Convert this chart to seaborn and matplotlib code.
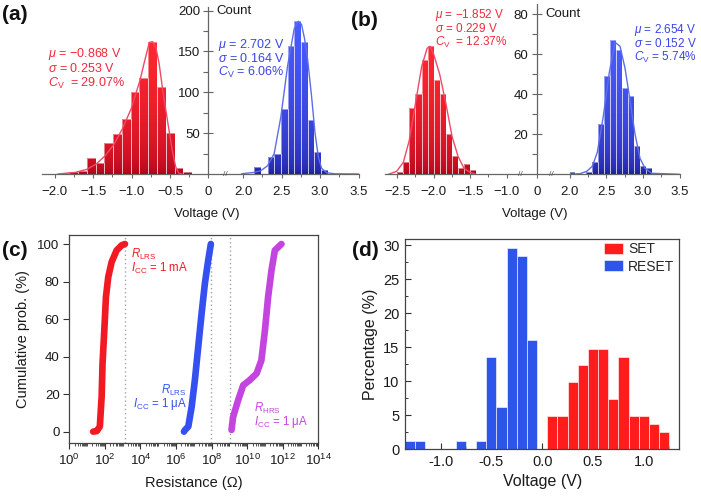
import numpy as np
import matplotlib
matplotlib.use("Agg")
import matplotlib.pyplot as plt
import seaborn as sns
from matplotlib.colors import LinearSegmentedColormap
from matplotlib.path import Path
from matplotlib.ticker import FixedLocator, FixedFormatter, LogLocator, NullFormatter

# ---------------- data ----------------
# (a) histograms (bin centres in V, counts)
a_red_v = [-1.866, -1.752, -1.638, -1.524, -1.410, -1.296, -1.182, -1.068,
           -0.954, -0.840, -0.726, -0.612, -0.498, -0.384, -0.270]
a_red_n = [1, 3, 4, 19, 14, 38, 49, 67, 100, 117, 162, 107, 50, 7, 3]
a_blue_v = [2.187, 2.274, 2.361, 2.448, 2.535, 2.622, 2.709, 2.796, 2.883, 2.970, 3.057]
a_blue_n = [8, 0, 21, 25, 80, 157, 187, 161, 66, 27, 5]
# (a) fit curves
a_red_curve_v = [-1.957, -1.731, -1.581, -1.462, -1.346, -1.231, -1.12, -1.004, -0.889,
                 -0.833, -0.769, -0.726, -0.684, -0.641, -0.598, -0.534, -0.47, -0.427,
                 -0.385, -0.342]
a_red_curve_n = [0, 2, 5.7, 12, 22, 36, 55, 80, 115, 137, 161, 162, 155, 135, 105, 66,
                 29, 9, 1, 0]
a_blue_curve_v = [1.9, 2.0, 2.143, 2.23, 2.317, 2.404, 2.491, 2.578, 2.665, 2.717, 2.76,
                  2.80, 2.839, 2.89, 2.935, 2.978, 3.02, 3.087, 3.2, 3.5]
a_blue_curve_n = [0, 0.5, 2, 4, 10, 25, 70, 132, 178, 187, 183, 165, 140, 95, 50, 21, 7,
                  1.5, 0.2, 0]
a_red_stats = [r"$\mu$ = −0.868 V", r"$\sigma$ = 0.253 V", r"$C_{\mathrm{V}}$  = 29.07%"]
a_blue_stats = [r"$\mu$ = 2.702 V", r"$\sigma$ = 0.164 V", r"$C_{\mathrm{V}}$ = 6.06%"]
a_xticks = [-2.0, -1.5, -1.0, -0.5, 0.0, 2.0, 2.5, 3.0, 3.5]
a_xtick_labels = ["−2.0", "−1.5", "−1.0", "−0.5", "0", "2.0", "2.5", "3.0", "3.5"]
a_yticks = [50, 100, 150, 200]
a_yminor = [25, 75, 125, 175]

# (b)
b_red_v = [-2.457, -2.374, -2.291, -2.208, -2.125, -2.042, -1.959, -1.877, -1.794,
           -1.711, -1.628, -1.545, -1.462]
b_red_n = [1, 6, 33, 40, 57, 64, 47, 40, 20, 9, 3, 5, 2]
b_blue_v = [2.022, 2.103, 2.184, 2.265, 2.347, 2.428, 2.509, 2.591, 2.672, 2.753, 2.835,
            2.916, 2.997, 3.078]
b_blue_n = [1, 0, 0, 1, 6, 25, 49, 67, 62, 43, 39, 14, 4, 3]
b_red_curve_v = [-2.62, -2.507, -2.416, -2.334, -2.247, -2.164, -2.09, -2.051, -2.0,
                 -1.918, -1.836, -1.749, -1.667, -1.585, -1.503, -1.42]
b_red_curve_n = [0, 1.5, 6, 17, 36, 54, 63, 64, 60, 50, 36, 19, 9, 3, 1, 0]
b_blue_curve_v = [2.0, 2.137, 2.229, 2.306, 2.374, 2.456, 2.539, 2.617, 2.685, 2.754,
                  2.822, 2.891, 2.959, 3.028, 3.119, 3.5]
b_blue_curve_n = [0, 0.3, 1.5, 4, 11, 29, 51, 66, 64, 53, 37, 20, 8, 3, 0.5, 0]
b_red_stats = [r"$\mu$ = −1.852 V", r"$\sigma$ = 0.229 V", r"$C_{\mathrm{V}}$  = 12.37%"]
b_blue_stats = [r"$\mu$ = 2.654 V", r"$\sigma$ = 0.152 V", r"$C_{\mathrm{V}}$ = 5.74%"]
b_xticks = [-2.5, -2.0, -1.5, -1.0, 0.0, 2.0, 2.5, 3.0, 3.5]
b_xtick_labels = ["−2.5", "−2.0", "−1.5", "−1.0", "0", "2.0", "2.5", "3.0", "3.5"]
b_yticks = [20, 40, 60, 80]
b_yminor = [10, 30, 50, 70]

# (c) cumulative probability curves (resistance in ohm, %)
c_red_r = [22, 35, 52, 66, 74, 93, 115, 155, 240, 457, 870, 1350]
c_red_p = [0, 0.3, 2.7, 18.7, 36.4, 54, 71.8, 82.4, 90.4, 96.6, 99.3, 100]
c_blue_r = [2.8e6, 3.2e6, 4.9e6, 7.6e6, 1.15e7, 1.78e7, 2.75e7, 4.2e7, 6.5e7, 9.1e7]
c_blue_p = [0, 0.9, 2.7, 13.3, 27.5, 45.3, 63, 79, 91.5, 100]
c_mag_r = [1.32e9, 1.62e9, 3.1e9, 6.0e9, 1.41e10, 3.4e10, 6.3e10, 1.0e11, 1.51e11,
           2.34e11, 3.6e11, 8.5e11]
c_mag_p = [0.9, 7.8, 16.7, 24.7, 27.5, 31, 38, 54, 71.8, 86, 96.6, 100]
c_vlines = [1.35e3, 9.0e7, 1.07e9]
c_xticks = [1e0, 1e2, 1e4, 1e6, 1e8, 1e10, 1e12, 1e14]
c_xtick_labels = ["$10^{0}$", "$10^{2}$", "$10^{4}$", "$10^{6}$", "$10^{8}$",
                  "$10^{10}$", "$10^{12}$", "$10^{14}$"]
c_yticks = [0, 20, 40, 60, 80, 100]

# (d) percentage histograms
d_set_v = [0.1, 0.2, 0.3, 0.4, 0.5, 0.6, 0.7, 0.8, 0.9, 1.0, 1.1, 1.2]
d_set_p = [4.94, 4.94, 9.88, 12.35, 14.8, 14.8, 7.4, 13.6, 4.94, 4.94, 3.7, 2.47]
d_reset_v = [-1.3, -1.2, -0.8, -0.6, -0.5, -0.4, -0.3, -0.2, -0.1]
d_reset_p = [1.23, 1.23, 1.23, 1.23, 13.6, 6.17, 29.6, 28.4, 16.05]
d_xticks = [-1.0, -0.5, 0.0, 0.5, 1.0]
d_xtick_labels = ["-1.0", "-0.5", "0.0", "0.5", "1.0"]
d_yticks = [0, 5, 10, 15, 20, 25, 30]

# ---------------- style ----------------
sns.set_theme(style="ticks")
plt.rcParams["font.family"] = ["Liberation Sans", "DejaVu Sans"]
plt.rcParams["mathtext.fontset"] = "custom"
plt.rcParams["mathtext.rm"] = "Liberation Sans"
plt.rcParams["mathtext.it"] = "Liberation Sans:italic"
plt.rcParams["mathtext.bf"] = "Liberation Sans:bold"
plt.rcParams["mathtext.sf"] = "Liberation Sans"
plt.rcParams["axes.unicode_minus"] = True

RED_TXT = "#F0283C"
RED_CURVE = "#F24868"
BLUE_TXT = "#3A44E4"
BLUE_CURVE = "#5C6EE8"
TICK_C = "#1a1a1a"
SPINE_C = "#666666"
EDGE_C = "#FFFFFFAA"

W, H = 701, 499
fig = plt.figure(figsize=(W / 100, H / 100), dpi=100)


def px_axes(x0, y0, x1, y1):
    return fig.add_axes([x0 / W, 1 - y1 / H, (x1 - x0) / W, (y1 - y0) / H])


def fig_text(x, y, s, **kw):
    fig.text(x / W, 1 - y / H, s, **kw)


def edges_from_centers(c):
    c = np.asarray(c, float)
    w = np.min(np.diff(c))
    n = int(round((c[-1] - c[0]) / w)) + 1
    return np.linspace(c[0] - w / 2, c[-1] + w / 2, n + 1).tolist()


def broken_scale(v_knots, u_knots):
    vk = np.asarray(v_knots, float)
    uk = np.asarray(u_knots, float)
    return (lambda x: np.interp(x, vk, uk)), (lambda u: np.interp(u, uk, vk))


def gradient_hist(ax, v, n, c_bottom, c_top, ytop):
    before = len(ax.patches)
    sns.histplot(x=v, weights=n, bins=edges_from_centers(v), ax=ax, color=c_top,
                 edgecolor=EDGE_C, linewidth=0.5, alpha=1)
    bars = list(ax.patches)[before:]
    cmap = LinearSegmentedColormap.from_list("g", [c_bottom, c_top])
    yy = np.linspace(0, 1, 256)
    grad = (np.clip(yy / (max(n) / ytop), 0, 1) ** 0.4).reshape(-1, 1)
    paths = [b.get_patch_transform().transform_path(b.get_path()) for b in bars]
    comp = Path.make_compound_path(*paths)
    im = ax.imshow(grad, extent=[0, 1, 0, 1], transform=ax.transAxes, origin="lower",
                   cmap=cmap, vmin=0, vmax=1, aspect="auto", interpolation="bilinear",
                   zorder=1.2)
    im.set_clip_path(comp, ax.transData)
    for b in bars:
        b.set_facecolor("none")
        b.set_zorder(1.4)


def hist_panel(ax, fwd, inv, hists, curves, xticks, xlabels, xminor, yticks, yminor,
               xlim, ytop, breaks):
    for v, n, cb, ct in hists:
        gradient_hist(ax, v, n, cb, ct, ytop)
    for cv, cn, col in curves:
        sns.lineplot(x=cv, y=cn, ax=ax, color=col, linewidth=1.0, zorder=2.5)
    ax.set_xscale("function", functions=(fwd, inv))
    ax.set_xlim(*xlim)
    ax.set_ylim(0, ytop)
    for s in ("top", "right"):
        ax.spines[s].set_visible(False)
    ax.spines["left"].set_position(("data", 0))
    for s in ("left", "bottom"):
        ax.spines[s].set_color(SPINE_C)
        ax.spines[s].set_linewidth(0.9)
    ax.xaxis.set_major_locator(FixedLocator(xticks))
    ax.xaxis.set_major_formatter(FixedFormatter(xlabels))
    ax.xaxis.set_minor_locator(FixedLocator(xminor))
    ax.xaxis.set_minor_formatter(NullFormatter())
    ax.yaxis.set_major_locator(FixedLocator(yticks))
    ax.yaxis.set_major_formatter(FixedFormatter([str(t) for t in yticks]))
    ax.yaxis.set_minor_locator(FixedLocator(yminor))
    ax.tick_params(axis="y", which="major", direction="inout", length=7, width=0.8,
                   color=SPINE_C, labelsize=9.5, labelcolor=TICK_C, pad=2.5)
    ax.tick_params(axis="y", which="minor", direction="out", length=3.5, width=0.8,
                   color=SPINE_C)
    ax.tick_params(axis="x", which="major", direction="out", length=3, width=0.8,
                   color=SPINE_C, labelsize=9.5, labelcolor=TICK_C, pad=5.5)
    ax.tick_params(axis="x", which="minor", direction="out", length=2, width=0.7,
                   color=SPINE_C)
    ax.set_ylabel("")
    ax.set_xlabel("Voltage (V)", fontsize=9.5, color=TICK_C)
    ax.annotate("Count", xy=(0, yticks[-1]), xycoords="data", xytext=(6, 0),
                textcoords="offset points", va="center", ha="left", fontsize=9.5,
                color=TICK_C)
    for bv in breaks:
        ax.text(bv, 0, "//", ha="center", va="center", fontsize=6, color="#555555",
                zorder=6)
    ax.set_facecolor("none")


# ---------------- (a) ----------------
axa = px_axes(41.5, 6.5, 358.5, 174)
fa, ia = broken_scale([-50, 0, 2, 50], [-50, 0, 0.45, 48.45])
hist_panel(axa, fa, ia,
           [(a_red_v, a_red_n, "#A8001A", "#FF2830"),
            (a_blue_v, a_blue_n, "#1A1A96", "#4A5CFF")],
           [(a_red_curve_v, a_red_curve_n, RED_CURVE),
            (a_blue_curve_v, a_blue_curve_n, BLUE_CURVE)],
           a_xticks, a_xtick_labels, [-1.75, -1.25, -0.75, -0.25, 2.25, 2.75, 3.25],
           a_yticks, a_yminor, (-2.17, 3.5), 205, [1.0])
axa.xaxis.set_label_coords(0.522, -0.2)

# ---------------- (b) ----------------
axb = px_axes(385, 4.3, 679.5, 174.3)
fb, ib = broken_scale([-50, -1, 0, 2, 50], [-49.411, -0.411, 0, 0.456, 48.456])
hist_panel(axb, fb, ib,
           [(b_red_v, b_red_n, "#A8001A", "#FF2830"),
            (b_blue_v, b_blue_n, "#1A1A96", "#4A5CFF")],
           [(b_red_curve_v, b_red_curve_n, RED_CURVE),
            (b_blue_curve_v, b_blue_curve_n, BLUE_CURVE)],
           b_xticks, b_xtick_labels, [-2.25, -1.75, -1.25, 2.25, 2.75, 3.25],
           b_yticks, b_yminor, (-2.667, 3.5), 85, [-0.55, 0.9])
axb.xaxis.set_label_coords(0.509, -0.2)

# stats annotations
for i, s in enumerate(a_red_stats):
    fig_text(48, 56.7 + 15 * i, s, color=RED_TXT, fontsize=9, va="baseline")
for i, s in enumerate(a_blue_stats):
    fig_text(218, 48.3 + 14 * i, s, color=BLUE_TXT, fontsize=9, va="baseline")
for i, s in enumerate(b_red_stats):
    fig_text(435, 18.3 + 14 * i, s, color=RED_TXT, fontsize=8.5, va="baseline")
for i, s in enumerate(b_blue_stats):
    fig_text(697, 33 + 13.8 * i, s, color=BLUE_TXT, fontsize=8.5, va="baseline",
             ha="right")

# ---------------- (c) ----------------
axc = px_axes(69.3, 235, 318.3, 442.7)
axc.set_xscale("log")
for r, p, col in [(c_red_r, c_red_p, "#F21A22"), (c_blue_r, c_blue_p, "#3550F0"),
                  (c_mag_r, c_mag_p, "#C444E0")]:
    sns.lineplot(x=r, y=p, ax=axc, color=col, linewidth=4.8, solid_capstyle="round",
                 solid_joinstyle="round", zorder=3)
for xv in c_vlines:
    axc.axvline(xv, color="#9aa3b8", linestyle=(0, (1, 2)), linewidth=1.0, zorder=1)
axc.set_xlim(1e0, 1e14)
axc.set_ylim(-5.9, 104.8)
axc.xaxis.set_major_locator(FixedLocator(c_xticks))
axc.xaxis.set_major_formatter(FixedFormatter(c_xtick_labels))
axc.xaxis.set_minor_locator(LogLocator(base=10, subs=np.arange(1, 10), numticks=100))
axc.xaxis.set_minor_formatter(NullFormatter())
axc.yaxis.set_major_locator(FixedLocator(c_yticks))
axc.yaxis.set_major_formatter(FixedFormatter([str(t) for t in c_yticks]))
axc.tick_params(axis="both", which="major", direction="out", length=4, width=0.8,
                color="#333333", labelsize=9.5, labelcolor=TICK_C, pad=3)
axc.tick_params(axis="x", which="minor", direction="out", length=2.5, width=0.6,
                color="#333333")
for s in axc.spines.values():
    s.set_color("#444444")
    s.set_linewidth(0.9)
axc.set_xlabel("Resistance (Ω)", fontsize=10.5, color=TICK_C, labelpad=6)
axc.set_ylabel("Cumulative prob. (%)", fontsize=10.5, color=TICK_C, labelpad=5)
TXT_C = 8.3
fig_text(131, 257.5, r"$R_{\mathrm{LRS}}$", color="#F21A22", fontsize=TXT_C, va="baseline")
fig_text(131, 271.5, r"$I_{\mathrm{CC}}$ = 1 mA", color="#F21A22", fontsize=TXT_C,
         va="baseline")
fig_text(187, 393.5, r"$R_{\mathrm{LRS}}$", color="#3550F0", fontsize=TXT_C,
         va="baseline", ha="right")
fig_text(187, 407.5, r"$I_{\mathrm{CC}}$ = 1 μA", color="#3550F0", fontsize=TXT_C,
         va="baseline", ha="right")
fig_text(254, 411.5, r"$R_{\mathrm{HRS}}$", color="#C444E0", fontsize=TXT_C,
         va="baseline")
fig_text(254, 425.5, r"$I_{\mathrm{CC}}$ = 1 μA", color="#C444E0", fontsize=TXT_C,
         va="baseline")

# ---------------- (d) ----------------
axd = px_axes(405, 239, 679.3, 449.3)
sns.histplot(x=d_set_v, weights=d_set_p, bins=edges_from_centers(d_set_v), ax=axd,
             color="#FF1C1C", edgecolor=EDGE_C, linewidth=0.6, alpha=1, label="SET")
sns.histplot(x=d_reset_v, weights=d_reset_p, bins=edges_from_centers(d_reset_v), ax=axd,
             color="#2D55EA", edgecolor=EDGE_C, linewidth=0.6, alpha=1, label="RESET")
axd.set_xlim(-1.35, 1.35)
axd.set_ylim(0, 30.9)
axd.xaxis.set_major_locator(FixedLocator(d_xticks))
axd.xaxis.set_major_formatter(FixedFormatter(d_xtick_labels))
axd.xaxis.set_minor_locator(FixedLocator([-1.25, -0.75, -0.25, 0.25, 0.75, 1.25]))
axd.yaxis.set_major_locator(FixedLocator(d_yticks))
axd.yaxis.set_major_formatter(FixedFormatter([str(t) for t in d_yticks]))
axd.yaxis.set_minor_locator(FixedLocator([2.5, 7.5, 12.5, 17.5, 22.5, 27.5]))
axd.tick_params(axis="both", which="major", direction="in", length=4, width=0.8,
                color="#333333", labelsize=10.5, labelcolor=TICK_C, pad=4)
axd.tick_params(axis="both", which="minor", direction="in", length=2, width=0.7,
                color="#333333")
for s in axd.spines.values():
    s.set_color("#444444")
    s.set_linewidth(0.9)
axd.set_xlabel("Voltage (V)", fontsize=11.5, color=TICK_C, labelpad=4)
axd.set_ylabel("Percentage (%)", fontsize=11.5, color=TICK_C, labelpad=4)
axd.legend(loc="upper left", bbox_to_anchor=(0.725, 0.985), frameon=False, fontsize=10,
           handlelength=1.4, handleheight=0.8, handletextpad=0.35, labelspacing=0.25,
           borderpad=0, borderaxespad=0)

# panel labels
for x, y, s in [(2, 15, "(a)"), (351, 20, "(b)"), (2, 250, "(c)"), (352, 250, "(d)")]:
    fig_text(x, y, s, fontsize=15, fontweight="bold", va="center", ha="left",
             color="#111111")

fig.savefig("out.png", dpi=100)
